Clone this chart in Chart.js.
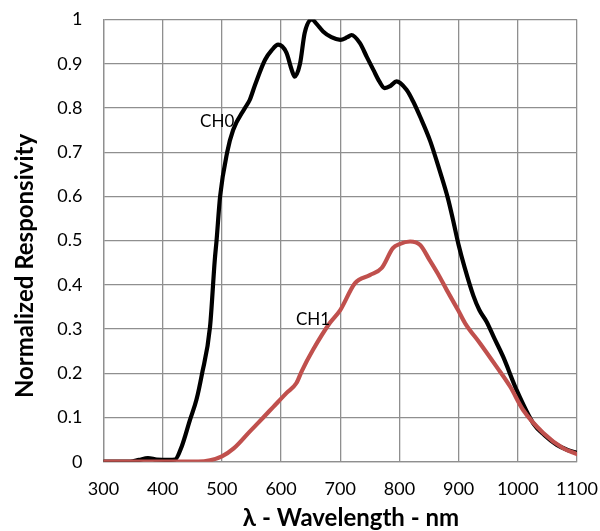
<!DOCTYPE html>
<html>
<head>
<meta charset="utf-8">
<script src="https://cdn.jsdelivr.net/npm/chart.js@4.4.0/dist/chart.umd.min.js"></script>
<style>
  html, body { margin: 0; padding: 0; background: #fff; }
</style>
</head>
<body>
<canvas id="respChart" width="600" height="531"></canvas>
<script>
// values
const ch0Wavelength = [300, 345, 360, 375, 390, 410, 421, 432, 446, 457, 466, 480, 488, 491, 497, 509, 519, 539, 547, 556, 573, 584, 595, 609, 618, 623, 632, 640, 652, 660, 671, 685, 700, 712, 719, 733, 745, 756, 766, 775, 785, 795, 812, 823, 835, 852, 868, 882, 890, 900, 910, 925, 935, 947, 960, 975, 998, 1026, 1045, 1066, 1085, 1100];
const ch0Response = [0, 0, 0.004, 0.008, 0.005, 0.004, 0.005, 0.034, 0.094, 0.14, 0.196, 0.305, 0.456, 0.5, 0.6, 0.7, 0.75, 0.8, 0.818, 0.852, 0.909, 0.93, 0.943, 0.925, 0.886, 0.871, 0.9, 0.97, 1.0, 0.99, 0.973, 0.96, 0.954, 0.96, 0.965, 0.947, 0.915, 0.886, 0.86, 0.845, 0.85, 0.86, 0.841, 0.815, 0.78, 0.725, 0.658, 0.595, 0.55, 0.49, 0.44, 0.375, 0.343, 0.317, 0.28, 0.238, 0.162, 0.087, 0.06, 0.038, 0.026, 0.02];

const ch1Wavelength = [300, 460, 480, 500, 520, 547, 570, 587, 609, 626, 635, 654, 682, 700, 725, 750, 770, 789, 800, 818, 835, 851, 865, 880, 899, 911, 936, 964, 987, 1009, 1043, 1076, 1100];
const ch1Response = [0, 0, 0.003, 0.012, 0.03, 0.068, 0.1, 0.124, 0.155, 0.178, 0.205, 0.253, 0.313, 0.343, 0.404, 0.422, 0.438, 0.483, 0.492, 0.498, 0.49, 0.456, 0.425, 0.388, 0.343, 0.313, 0.268, 0.215, 0.17, 0.117, 0.065, 0.031, 0.017];

const xTickLabels = ['300', '400', '500', '600', '700', '800', '900', '1000', '1100'];
const yTickLabels = ['0', '0.1', '0.2', '0.3', '0.4', '0.5', '0.6', '0.7', '0.8', '0.9', '1'];

const curveNames = ['CH0', 'CH1'];
const curveNameX = [492, 654];
const curveNameY = [0.77, 0.322];

const xTitle = 'λ - Wavelength - nm';
const yTitle = 'Normalized Responsivity';

const gridColor = '#8f8f8f';
const tickFont = { family: 'Lato', size: 18 };

function toPoints(xs, ys) {
    return xs.map((x, i) => ({ x: x, y: ys[i] }));
}

// curve names and axis titles, placed by hand like the original
const textPlugin = {
    id: 'textPlugin',
    afterDraw(chart) {
        const ctx = chart.ctx;
        const xs = chart.scales.x;
        const ys = chart.scales.y;
        ctx.save();
        ctx.fillStyle = '#000';
        ctx.textAlign = 'center';
        ctx.textBaseline = 'middle';
        ctx.font = '17px Lato';
        curveNames.forEach((name, i) => {
            ctx.fillText(name, xs.getPixelForValue(curveNameX[i]), ys.getPixelForValue(curveNameY[i]));
        });
        ctx.font = 'bold 24px Lato';
        ctx.fillText(xTitle, 351, 518);
        ctx.translate(25, 266);
        ctx.rotate(-Math.PI / 2);
        ctx.fillText(yTitle, 0, 0);
        ctx.restore();
    }
};

const ctx = document.getElementById('respChart').getContext('2d');
new Chart(ctx, {
    type: 'line',
    data: {
        datasets: [{
            label: 'CH1',
            data: toPoints(ch1Wavelength, ch1Response),
            borderColor: '#c0504d',
            borderWidth: 4.2,
            order: 0
        }, {
            label: 'CH0',
            data: toPoints(ch0Wavelength, ch0Response),
            borderColor: '#000000',
            borderWidth: 4.2,
            order: 1
        }]
    },
    options: {
        responsive: false,
        animation: false,
        devicePixelRatio: 1,
        layout: { padding: { top: 19.5, right: 23, bottom: 0, left: 0 } },
        elements: {
            point: { radius: 0 },
            line: { cubicInterpolationMode: 'monotone', fill: false, borderCapStyle: 'round', borderJoinStyle: 'round' }
        },
        plugins: {
            legend: { display: false },
            tooltip: { enabled: false }
        },
        scales: {
            x: {
                type: 'linear',
                min: 300,
                max: 1100,
                afterFit(scale) {
                    scale.height = 69.3;
                    scale.paddingLeft = 0;
                    scale.paddingRight = 0;
                },
                grid: { color: gridColor, lineWidth: 1.3, drawTicks: false },
                border: { color: gridColor, width: 1.3 },
                ticks: {
                    stepSize: 100,
                    padding: 17,
                    color: '#000',
                    font: tickFont,
                    maxRotation: 0,
                    callback: (v, i) => xTickLabels[i]
                }
            },
            y: {
                min: 0,
                max: 1,
                afterFit(scale) {
                    scale.width = 103.5;
                    scale.paddingTop = 0;
                    scale.paddingBottom = 0;
                },
                grid: { color: gridColor, lineWidth: 1.3, drawTicks: false },
                border: { color: gridColor, width: 1.3 },
                ticks: {
                    stepSize: 0.1,
                    padding: 21,
                    color: '#000',
                    font: tickFont,
                    callback: (v, i) => yTickLabels[i]
                }
            }
        }
    },
    plugins: [textPlugin]
});
</script>
</body>
</html>
